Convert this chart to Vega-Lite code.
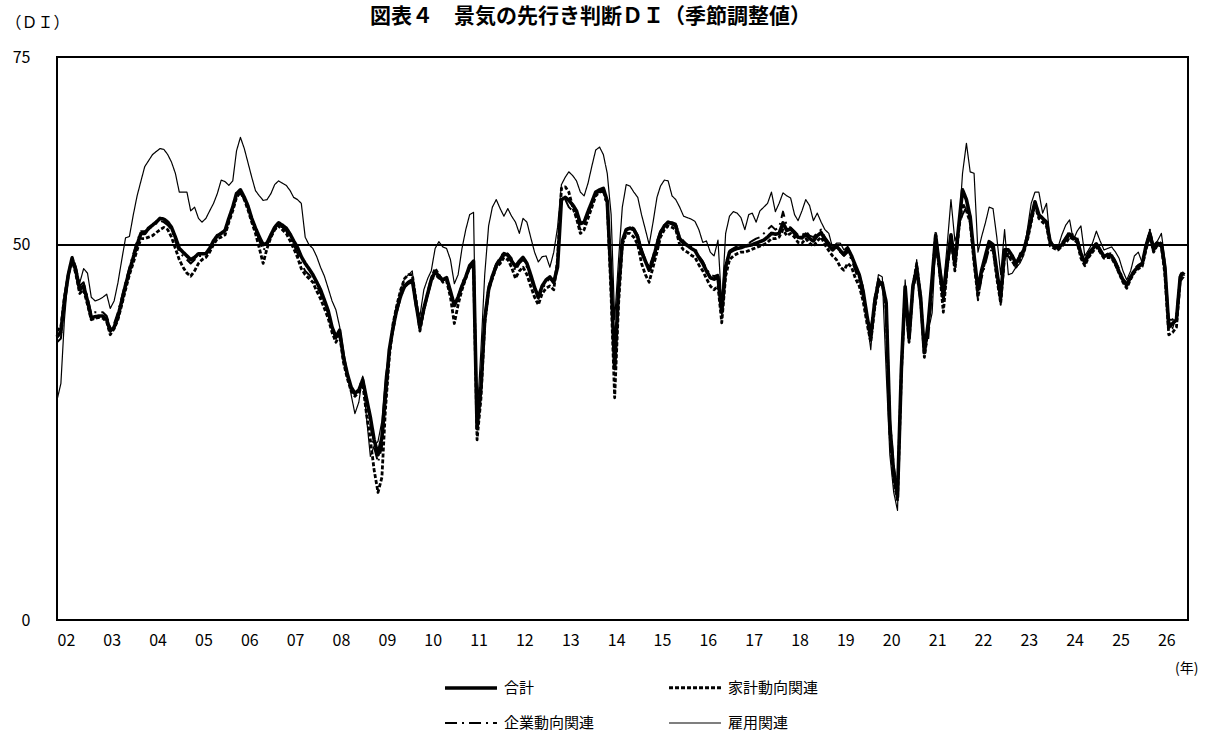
{
  "$schema": "https://vega.github.io/schema/vega-lite/v6.json",
  "description": "景気の先行き判断DI（季節調整値）, 2002-2026",
  "autosize": "none",
  "width": 1131,
  "height": 563,
  "padding": {"left": 57, "top": 57, "right": 26, "bottom": 116},
  "background": "white",
  "title": {
    "text": "図表４　景気の先行き判断ＤＩ（季節調整値）",
    "font": "Noto Sans CJK JP",
    "fontSize": 21,
    "fontWeight": "bold",
    "color": "black",
    "anchor": "middle",
    "dx": -32,
    "offset": -13
  },
  "config": {
    "view": {"stroke": "black", "strokeWidth": 2},
    "font": "Noto Sans CJK JP"
  },
  "data": {"values": [
    {"m":"2002-01","a":37.7,"h":38.5,"c":37.0,"e":29.3},
    {"m":"2002-02","a":38.4,"h":39.0,"c":37.5,"e":31.5},
    {"m":"2002-03","a":42.5,"h":43.0,"c":42.0,"e":40.0},
    {"m":"2002-04","a":46.0,"h":46.0,"c":45.5,"e":46.0},
    {"m":"2002-05","a":48.2,"h":48.0,"c":48.5,"e":48.4},
    {"m":"2002-06","a":46.5,"h":46.0,"c":47.0,"e":46.5},
    {"m":"2002-07","a":44.0,"h":43.5,"c":44.5,"e":44.9},
    {"m":"2002-08","a":44.5,"h":44.0,"c":45.0,"e":46.8},
    {"m":"2002-09","a":42.5,"h":42.0,"c":43.0,"e":46.2},
    {"m":"2002-10","a":40.3,"h":40.0,"c":40.8,"e":43.0},
    {"m":"2002-11","a":40.4,"h":40.2,"c":41.0,"e":42.5},
    {"m":"2002-12","a":40.5,"h":40.3,"c":41.0,"e":42.7},
    {"m":"2003-01","a":40.5,"h":40.2,"c":41.0,"e":43.0},
    {"m":"2003-02","a":40.0,"h":39.7,"c":40.5,"e":43.4},
    {"m":"2003-03","a":38.5,"h":38.0,"c":39.0,"e":41.5},
    {"m":"2003-04","a":39.0,"h":38.8,"c":39.5,"e":42.5},
    {"m":"2003-05","a":40.4,"h":40.0,"c":41.0,"e":44.9},
    {"m":"2003-06","a":42.5,"h":42.0,"c":43.0,"e":48.0},
    {"m":"2003-07","a":44.6,"h":44.0,"c":45.0,"e":50.9},
    {"m":"2003-08","a":46.5,"h":46.0,"c":47.0,"e":51.1},
    {"m":"2003-09","a":48.3,"h":47.6,"c":48.8,"e":54.0},
    {"m":"2003-10","a":50.0,"h":49.3,"c":50.5,"e":56.5},
    {"m":"2003-11","a":51.5,"h":50.8,"c":51.8,"e":58.5},
    {"m":"2003-12","a":51.5,"h":50.8,"c":51.8,"e":60.4},
    {"m":"2004-01","a":52.2,"h":51.0,"c":52.0,"e":61.2},
    {"m":"2004-02","a":52.6,"h":51.2,"c":52.5,"e":62.0},
    {"m":"2004-03","a":53.0,"h":51.6,"c":52.8,"e":62.4},
    {"m":"2004-04","a":53.5,"h":52.0,"c":53.2,"e":62.8},
    {"m":"2004-05","a":53.4,"h":52.3,"c":53.0,"e":62.7},
    {"m":"2004-06","a":53.0,"h":52.0,"c":52.6,"e":62.0},
    {"m":"2004-07","a":52.3,"h":51.0,"c":52.0,"e":61.0},
    {"m":"2004-08","a":51.0,"h":49.5,"c":50.5,"e":59.5},
    {"m":"2004-09","a":49.5,"h":48.0,"c":49.0,"e":57.0},
    {"m":"2004-10","a":49.0,"h":47.0,"c":48.5,"e":57.0},
    {"m":"2004-11","a":48.5,"h":46.2,"c":48.0,"e":57.0},
    {"m":"2004-12","a":48.0,"h":45.8,"c":47.5,"e":54.5},
    {"m":"2005-01","a":48.3,"h":46.5,"c":48.0,"e":55.0},
    {"m":"2005-02","a":48.8,"h":47.5,"c":48.5,"e":53.5},
    {"m":"2005-03","a":48.8,"h":48.0,"c":48.5,"e":53.0},
    {"m":"2005-04","a":48.8,"h":48.3,"c":48.6,"e":53.5},
    {"m":"2005-05","a":49.5,"h":49.0,"c":49.3,"e":54.5},
    {"m":"2005-06","a":50.5,"h":50.0,"c":50.3,"e":55.5},
    {"m":"2005-07","a":51.2,"h":50.8,"c":51.0,"e":56.8},
    {"m":"2005-08","a":51.5,"h":51.0,"c":51.5,"e":58.6},
    {"m":"2005-09","a":51.9,"h":51.3,"c":52.0,"e":58.4},
    {"m":"2005-10","a":53.5,"h":53.0,"c":53.3,"e":57.9},
    {"m":"2005-11","a":55.0,"h":54.5,"c":55.0,"e":58.5},
    {"m":"2005-12","a":56.8,"h":56.3,"c":56.5,"e":62.5},
    {"m":"2006-01","a":57.3,"h":57.0,"c":57.0,"e":64.3},
    {"m":"2006-02","a":56.3,"h":56.0,"c":56.0,"e":62.8},
    {"m":"2006-03","a":55.2,"h":54.7,"c":55.0,"e":61.0},
    {"m":"2006-04","a":53.5,"h":53.0,"c":53.3,"e":59.0},
    {"m":"2006-05","a":52.2,"h":51.5,"c":52.0,"e":57.2},
    {"m":"2006-06","a":51.0,"h":49.5,"c":50.5,"e":56.5},
    {"m":"2006-07","a":50.0,"h":47.5,"c":49.2,"e":55.9},
    {"m":"2006-08","a":50.2,"h":49.5,"c":50.0,"e":56.0},
    {"m":"2006-09","a":51.3,"h":51.0,"c":51.0,"e":56.8},
    {"m":"2006-10","a":52.3,"h":52.0,"c":52.0,"e":58.0},
    {"m":"2006-11","a":52.9,"h":52.5,"c":52.5,"e":58.5},
    {"m":"2006-12","a":52.6,"h":52.0,"c":52.3,"e":58.2},
    {"m":"2007-01","a":52.2,"h":51.5,"c":51.8,"e":57.9},
    {"m":"2007-02","a":51.4,"h":50.5,"c":51.0,"e":57.2},
    {"m":"2007-03","a":50.5,"h":49.5,"c":50.0,"e":56.3},
    {"m":"2007-04","a":49.6,"h":48.3,"c":48.8,"e":56.0},
    {"m":"2007-05","a":48.4,"h":46.8,"c":47.5,"e":55.5},
    {"m":"2007-06","a":47.5,"h":46.0,"c":46.5,"e":51.0},
    {"m":"2007-07","a":46.8,"h":45.5,"c":46.0,"e":50.0},
    {"m":"2007-08","a":46.0,"h":45.0,"c":45.3,"e":49.5},
    {"m":"2007-09","a":45.0,"h":43.8,"c":44.5,"e":48.4},
    {"m":"2007-10","a":44.0,"h":42.8,"c":43.5,"e":47.0},
    {"m":"2007-11","a":42.6,"h":41.5,"c":42.2,"e":45.8},
    {"m":"2007-12","a":41.2,"h":40.2,"c":40.8,"e":44.2},
    {"m":"2008-01","a":39.0,"h":38.3,"c":38.7,"e":42.5},
    {"m":"2008-02","a":37.7,"h":37.0,"c":37.5,"e":41.3},
    {"m":"2008-03","a":38.6,"h":38.0,"c":38.3,"e":39.1},
    {"m":"2008-04","a":35.0,"h":34.3,"c":34.8,"e":36.0},
    {"m":"2008-05","a":32.8,"h":32.2,"c":32.5,"e":33.0},
    {"m":"2008-06","a":31.0,"h":30.5,"c":31.0,"e":30.0},
    {"m":"2008-07","a":30.2,"h":29.8,"c":30.0,"e":27.5},
    {"m":"2008-08","a":30.6,"h":30.3,"c":30.8,"e":29.0},
    {"m":"2008-09","a":32.0,"h":31.5,"c":32.3,"e":32.5},
    {"m":"2008-10","a":29.5,"h":27.5,"c":29.5,"e":27.0},
    {"m":"2008-11","a":27.0,"h":24.0,"c":26.0,"e":21.8},
    {"m":"2008-12","a":24.0,"h":20.0,"c":23.0,"e":23.2},
    {"m":"2009-01","a":22.0,"h":17.0,"c":21.0,"e":23.8},
    {"m":"2009-02","a":24.3,"h":19.0,"c":23.0,"e":26.5},
    {"m":"2009-03","a":30.0,"h":28.0,"c":29.5,"e":32.5},
    {"m":"2009-04","a":36.0,"h":35.0,"c":35.5,"e":36.0},
    {"m":"2009-05","a":39.0,"h":39.5,"c":38.5,"e":39.0},
    {"m":"2009-06","a":41.5,"h":42.0,"c":41.0,"e":41.7},
    {"m":"2009-07","a":43.2,"h":44.0,"c":43.0,"e":44.0},
    {"m":"2009-08","a":44.5,"h":45.5,"c":44.3,"e":45.5},
    {"m":"2009-09","a":45.0,"h":46.0,"c":44.8,"e":46.0},
    {"m":"2009-10","a":45.3,"h":46.0,"c":45.0,"e":46.5},
    {"m":"2009-11","a":42.0,"h":42.5,"c":41.5,"e":42.0},
    {"m":"2009-12","a":39.0,"h":38.5,"c":38.5,"e":40.5},
    {"m":"2010-01","a":41.5,"h":41.3,"c":41.5,"e":44.0},
    {"m":"2010-02","a":43.5,"h":43.5,"c":43.3,"e":45.5},
    {"m":"2010-03","a":45.3,"h":45.5,"c":45.0,"e":46.5},
    {"m":"2010-04","a":46.4,"h":46.8,"c":46.0,"e":49.5},
    {"m":"2010-05","a":45.8,"h":46.0,"c":45.5,"e":50.4},
    {"m":"2010-06","a":45.3,"h":45.0,"c":45.2,"e":49.7},
    {"m":"2010-07","a":45.6,"h":45.2,"c":45.5,"e":49.5},
    {"m":"2010-08","a":43.8,"h":43.0,"c":43.5,"e":48.0},
    {"m":"2010-09","a":41.9,"h":39.5,"c":42.0,"e":44.8},
    {"m":"2010-10","a":43.0,"h":42.0,"c":43.0,"e":46.0},
    {"m":"2010-11","a":44.5,"h":44.0,"c":44.8,"e":49.5},
    {"m":"2010-12","a":45.7,"h":45.5,"c":46.0,"e":52.0},
    {"m":"2011-01","a":47.2,"h":47.0,"c":46.8,"e":54.0},
    {"m":"2011-02","a":47.8,"h":47.5,"c":47.3,"e":54.3},
    {"m":"2011-03","a":25.5,"h":24.0,"c":25.5,"e":27.0},
    {"m":"2011-04","a":31.0,"h":29.5,"c":31.0,"e":36.0},
    {"m":"2011-05","a":40.0,"h":39.5,"c":40.5,"e":46.0},
    {"m":"2011-06","a":44.0,"h":44.0,"c":44.5,"e":52.5},
    {"m":"2011-07","a":45.8,"h":45.5,"c":46.0,"e":55.0},
    {"m":"2011-08","a":47.2,"h":47.0,"c":47.5,"e":56.0},
    {"m":"2011-09","a":48.0,"h":47.5,"c":48.3,"e":54.8},
    {"m":"2011-10","a":48.8,"h":48.3,"c":49.0,"e":53.8},
    {"m":"2011-11","a":48.6,"h":48.0,"c":48.8,"e":54.8},
    {"m":"2011-12","a":47.8,"h":47.0,"c":48.2,"e":53.8},
    {"m":"2012-01","a":47.1,"h":45.5,"c":46.5,"e":53.0},
    {"m":"2012-02","a":47.8,"h":46.5,"c":47.5,"e":51.5},
    {"m":"2012-03","a":48.3,"h":47.0,"c":48.0,"e":53.5},
    {"m":"2012-04","a":47.5,"h":46.0,"c":47.0,"e":53.0},
    {"m":"2012-05","a":46.0,"h":44.5,"c":45.5,"e":51.0},
    {"m":"2012-06","a":44.3,"h":43.0,"c":44.0,"e":49.0},
    {"m":"2012-07","a":43.0,"h":42.0,"c":42.8,"e":47.7},
    {"m":"2012-08","a":44.5,"h":43.5,"c":44.0,"e":48.4},
    {"m":"2012-09","a":45.3,"h":44.2,"c":45.0,"e":48.5},
    {"m":"2012-10","a":45.7,"h":44.5,"c":45.5,"e":47.0},
    {"m":"2012-11","a":45.0,"h":44.0,"c":44.8,"e":49.0},
    {"m":"2012-12","a":47.0,"h":48.0,"c":47.5,"e":52.3},
    {"m":"2013-01","a":56.0,"h":57.5,"c":55.5,"e":58.0},
    {"m":"2013-02","a":56.3,"h":57.7,"c":56.0,"e":59.0},
    {"m":"2013-03","a":55.9,"h":57.0,"c":55.0,"e":59.7},
    {"m":"2013-04","a":55.3,"h":55.0,"c":54.5,"e":59.2},
    {"m":"2013-05","a":54.5,"h":53.5,"c":53.8,"e":58.5},
    {"m":"2013-06","a":52.8,"h":51.5,"c":52.0,"e":57.0},
    {"m":"2013-07","a":53.0,"h":52.0,"c":52.5,"e":56.5},
    {"m":"2013-08","a":54.4,"h":53.5,"c":54.0,"e":58.2},
    {"m":"2013-09","a":55.7,"h":55.0,"c":55.5,"e":60.5},
    {"m":"2013-10","a":57.0,"h":56.5,"c":56.8,"e":62.6},
    {"m":"2013-11","a":57.3,"h":57.0,"c":57.0,"e":63.0},
    {"m":"2013-12","a":57.5,"h":57.2,"c":57.0,"e":62.0},
    {"m":"2014-01","a":55.8,"h":55.5,"c":55.0,"e":59.5},
    {"m":"2014-02","a":45.5,"h":43.0,"c":46.0,"e":54.0},
    {"m":"2014-03","a":33.5,"h":29.6,"c":35.0,"e":40.0},
    {"m":"2014-04","a":44.0,"h":42.0,"c":45.0,"e":48.0},
    {"m":"2014-05","a":50.5,"h":50.0,"c":50.5,"e":55.0},
    {"m":"2014-06","a":52.0,"h":51.5,"c":52.0,"e":58.0},
    {"m":"2014-07","a":52.2,"h":51.5,"c":52.5,"e":57.8},
    {"m":"2014-08","a":52.0,"h":51.0,"c":52.2,"e":57.0},
    {"m":"2014-09","a":51.0,"h":50.0,"c":51.3,"e":56.3},
    {"m":"2014-10","a":49.0,"h":47.5,"c":49.5,"e":54.0},
    {"m":"2014-11","a":47.8,"h":46.0,"c":48.0,"e":52.0},
    {"m":"2014-12","a":46.6,"h":45.0,"c":47.0,"e":50.0},
    {"m":"2015-01","a":48.0,"h":47.0,"c":48.5,"e":53.0},
    {"m":"2015-02","a":50.0,"h":49.0,"c":50.5,"e":56.3},
    {"m":"2015-03","a":51.6,"h":51.0,"c":51.8,"e":57.8},
    {"m":"2015-04","a":52.5,"h":52.0,"c":52.6,"e":58.6},
    {"m":"2015-05","a":53.0,"h":52.5,"c":53.0,"e":58.5},
    {"m":"2015-06","a":52.8,"h":52.3,"c":53.0,"e":56.5},
    {"m":"2015-07","a":52.5,"h":52.0,"c":52.8,"e":56.0},
    {"m":"2015-08","a":50.8,"h":50.0,"c":51.0,"e":55.0},
    {"m":"2015-09","a":50.2,"h":49.3,"c":50.5,"e":53.8},
    {"m":"2015-10","a":49.9,"h":49.0,"c":50.0,"e":53.6},
    {"m":"2015-11","a":49.5,"h":48.6,"c":49.8,"e":53.4},
    {"m":"2015-12","a":49.2,"h":48.3,"c":49.5,"e":53.1},
    {"m":"2016-01","a":48.3,"h":47.3,"c":48.5,"e":52.0},
    {"m":"2016-02","a":47.5,"h":46.5,"c":47.8,"e":50.3},
    {"m":"2016-03","a":46.5,"h":45.5,"c":46.8,"e":50.5},
    {"m":"2016-04","a":45.6,"h":44.5,"c":46.0,"e":49.0},
    {"m":"2016-05","a":45.4,"h":44.0,"c":45.8,"e":48.5},
    {"m":"2016-06","a":45.7,"h":44.5,"c":46.0,"e":50.6},
    {"m":"2016-07","a":41.0,"h":39.6,"c":41.5,"e":42.0},
    {"m":"2016-08","a":47.0,"h":45.8,"c":47.5,"e":51.5},
    {"m":"2016-09","a":49.0,"h":48.0,"c":49.2,"e":53.8},
    {"m":"2016-10","a":49.3,"h":48.5,"c":49.5,"e":54.4},
    {"m":"2016-11","a":49.5,"h":48.8,"c":49.8,"e":54.2},
    {"m":"2016-12","a":49.6,"h":49.0,"c":49.8,"e":53.6},
    {"m":"2017-01","a":49.8,"h":49.0,"c":50.0,"e":52.0},
    {"m":"2017-02","a":49.9,"h":49.2,"c":50.2,"e":54.0},
    {"m":"2017-03","a":50.0,"h":49.4,"c":50.5,"e":54.2},
    {"m":"2017-04","a":50.2,"h":49.6,"c":50.8,"e":53.0},
    {"m":"2017-05","a":50.4,"h":49.8,"c":51.0,"e":54.5},
    {"m":"2017-06","a":50.6,"h":50.0,"c":51.5,"e":55.0},
    {"m":"2017-07","a":51.0,"h":50.3,"c":52.0,"e":55.5},
    {"m":"2017-08","a":51.5,"h":50.8,"c":52.5,"e":57.0},
    {"m":"2017-09","a":51.4,"h":50.8,"c":52.0,"e":54.4},
    {"m":"2017-10","a":51.5,"h":51.0,"c":52.3,"e":55.5},
    {"m":"2017-11","a":52.9,"h":52.0,"c":54.4,"e":56.9},
    {"m":"2017-12","a":51.9,"h":51.2,"c":52.5,"e":56.5},
    {"m":"2018-01","a":52.1,"h":51.5,"c":52.3,"e":56.2},
    {"m":"2018-02","a":51.5,"h":51.0,"c":51.8,"e":54.0},
    {"m":"2018-03","a":51.0,"h":50.3,"c":51.3,"e":53.2},
    {"m":"2018-04","a":50.9,"h":50.2,"c":51.2,"e":54.5},
    {"m":"2018-05","a":51.4,"h":50.8,"c":51.8,"e":56.0},
    {"m":"2018-06","a":50.8,"h":50.2,"c":51.2,"e":55.2},
    {"m":"2018-07","a":50.5,"h":49.8,"c":51.0,"e":53.2},
    {"m":"2018-08","a":51.2,"h":50.5,"c":51.6,"e":54.2},
    {"m":"2018-09","a":51.6,"h":51.0,"c":52.0,"e":53.0},
    {"m":"2018-10","a":50.7,"h":50.0,"c":51.0,"e":52.0},
    {"m":"2018-11","a":49.9,"h":49.2,"c":50.3,"e":51.5},
    {"m":"2018-12","a":49.3,"h":48.5,"c":49.7,"e":49.6},
    {"m":"2019-01","a":49.8,"h":48.0,"c":49.5,"e":50.2},
    {"m":"2019-02","a":49.2,"h":47.0,"c":49.0,"e":50.2},
    {"m":"2019-03","a":48.7,"h":46.6,"c":48.5,"e":49.3},
    {"m":"2019-04","a":49.5,"h":47.5,"c":49.0,"e":49.8},
    {"m":"2019-05","a":48.5,"h":47.0,"c":48.0,"e":48.5},
    {"m":"2019-06","a":47.2,"h":45.5,"c":46.5,"e":47.0},
    {"m":"2019-07","a":46.0,"h":44.5,"c":45.0,"e":46.2},
    {"m":"2019-08","a":43.8,"h":42.5,"c":43.0,"e":44.5},
    {"m":"2019-09","a":40.5,"h":39.5,"c":40.0,"e":40.0},
    {"m":"2019-10","a":37.7,"h":37.0,"c":38.5,"e":36.0},
    {"m":"2019-11","a":42.3,"h":41.5,"c":43.0,"e":42.5},
    {"m":"2019-12","a":45.0,"h":44.5,"c":45.5,"e":46.0},
    {"m":"2020-01","a":44.8,"h":45.0,"c":44.5,"e":45.7},
    {"m":"2020-02","a":42.2,"h":41.5,"c":42.8,"e":33.0},
    {"m":"2020-03","a":26.0,"h":25.0,"c":27.0,"e":22.0},
    {"m":"2020-04","a":19.5,"h":18.5,"c":20.5,"e":17.0},
    {"m":"2020-05","a":16.4,"h":16.0,"c":17.5,"e":14.6},
    {"m":"2020-06","a":33.5,"h":33.0,"c":33.0,"e":31.5},
    {"m":"2020-07","a":44.4,"h":44.0,"c":44.0,"e":45.3},
    {"m":"2020-08","a":37.5,"h":37.0,"c":38.5,"e":37.0},
    {"m":"2020-09","a":44.5,"h":44.5,"c":44.0,"e":43.5},
    {"m":"2020-10","a":46.8,"h":47.5,"c":46.0,"e":48.0},
    {"m":"2020-11","a":43.0,"h":43.0,"c":42.0,"e":43.0},
    {"m":"2020-12","a":35.6,"h":35.0,"c":36.0,"e":36.4},
    {"m":"2021-01","a":39.6,"h":39.0,"c":37.5,"e":38.5},
    {"m":"2021-02","a":45.5,"h":45.0,"c":44.0,"e":40.9},
    {"m":"2021-03","a":51.2,"h":51.5,"c":50.0,"e":50.0},
    {"m":"2021-04","a":47.0,"h":46.5,"c":46.0,"e":47.5},
    {"m":"2021-05","a":43.0,"h":41.0,"c":42.5,"e":44.4},
    {"m":"2021-06","a":47.5,"h":47.0,"c":46.5,"e":50.0},
    {"m":"2021-07","a":51.3,"h":51.0,"c":50.5,"e":56.0},
    {"m":"2021-08","a":47.5,"h":46.5,"c":47.0,"e":50.5},
    {"m":"2021-09","a":52.5,"h":52.0,"c":52.5,"e":52.0},
    {"m":"2021-10","a":57.3,"h":55.5,"c":54.0,"e":59.5},
    {"m":"2021-11","a":56.0,"h":54.5,"c":55.0,"e":63.5},
    {"m":"2021-12","a":53.7,"h":53.0,"c":53.0,"e":59.7},
    {"m":"2022-01","a":48.5,"h":47.5,"c":48.0,"e":59.5},
    {"m":"2022-02","a":44.0,"h":43.0,"c":42.6,"e":49.0},
    {"m":"2022-03","a":46.5,"h":46.0,"c":45.5,"e":51.0},
    {"m":"2022-04","a":48.5,"h":48.0,"c":47.5,"e":52.9},
    {"m":"2022-05","a":50.4,"h":50.0,"c":49.5,"e":55.0},
    {"m":"2022-06","a":50.0,"h":49.5,"c":49.0,"e":54.8},
    {"m":"2022-07","a":46.5,"h":45.5,"c":46.0,"e":51.0},
    {"m":"2022-08","a":43.0,"h":42.2,"c":42.0,"e":46.0},
    {"m":"2022-09","a":49.3,"h":48.5,"c":48.5,"e":52.0},
    {"m":"2022-10","a":49.3,"h":48.8,"c":48.5,"e":46.0},
    {"m":"2022-11","a":48.5,"h":47.8,"c":47.5,"e":46.2},
    {"m":"2022-12","a":47.5,"h":47.0,"c":47.0,"e":47.0},
    {"m":"2023-01","a":48.4,"h":48.0,"c":48.8,"e":47.5},
    {"m":"2023-02","a":49.3,"h":49.0,"c":49.5,"e":48.6},
    {"m":"2023-03","a":51.0,"h":50.5,"c":51.5,"e":52.0},
    {"m":"2023-04","a":53.5,"h":53.0,"c":54.0,"e":55.5},
    {"m":"2023-05","a":55.7,"h":55.3,"c":55.5,"e":57.0},
    {"m":"2023-06","a":54.0,"h":53.5,"c":54.0,"e":57.0},
    {"m":"2023-07","a":53.5,"h":53.0,"c":53.5,"e":54.2},
    {"m":"2023-08","a":53.0,"h":52.5,"c":53.0,"e":55.5},
    {"m":"2023-09","a":50.2,"h":49.8,"c":50.5,"e":50.2},
    {"m":"2023-10","a":49.8,"h":49.5,"c":50.0,"e":49.9},
    {"m":"2023-11","a":49.5,"h":49.3,"c":49.8,"e":49.7},
    {"m":"2023-12","a":50.0,"h":49.8,"c":50.2,"e":51.3},
    {"m":"2024-01","a":50.7,"h":50.2,"c":51.0,"e":52.6},
    {"m":"2024-02","a":51.4,"h":51.0,"c":51.8,"e":53.3},
    {"m":"2024-03","a":51.0,"h":50.7,"c":51.3,"e":50.6},
    {"m":"2024-04","a":50.6,"h":50.3,"c":51.0,"e":51.8},
    {"m":"2024-05","a":48.8,"h":48.2,"c":49.0,"e":52.5},
    {"m":"2024-06","a":47.6,"h":47.2,"c":48.0,"e":48.5},
    {"m":"2024-07","a":48.6,"h":48.3,"c":49.0,"e":49.3},
    {"m":"2024-08","a":49.4,"h":49.0,"c":49.6,"e":50.2},
    {"m":"2024-09","a":50.1,"h":49.7,"c":50.3,"e":51.8},
    {"m":"2024-10","a":49.2,"h":49.0,"c":49.5,"e":50.5},
    {"m":"2024-11","a":48.4,"h":48.2,"c":48.6,"e":49.3},
    {"m":"2024-12","a":48.7,"h":48.3,"c":48.9,"e":49.5},
    {"m":"2025-01","a":48.5,"h":48.2,"c":48.8,"e":49.7},
    {"m":"2025-02","a":47.5,"h":47.3,"c":47.8,"e":49.0},
    {"m":"2025-03","a":46.4,"h":46.2,"c":46.8,"e":48.2},
    {"m":"2025-04","a":45.3,"h":45.0,"c":45.5,"e":46.5},
    {"m":"2025-05","a":44.6,"h":44.2,"c":44.8,"e":45.3},
    {"m":"2025-06","a":45.7,"h":45.4,"c":45.8,"e":46.5},
    {"m":"2025-07","a":46.5,"h":46.3,"c":46.8,"e":48.5},
    {"m":"2025-08","a":47.1,"h":46.8,"c":47.3,"e":49.0},
    {"m":"2025-09","a":47.4,"h":47.1,"c":47.6,"e":47.6},
    {"m":"2025-10","a":49.8,"h":49.3,"c":49.8,"e":50.0},
    {"m":"2025-11","a":51.5,"h":51.3,"c":52.0,"e":52.0},
    {"m":"2025-12","a":49.3,"h":49.0,"c":49.5,"e":50.0},
    {"m":"2026-01","a":50.2,"h":50.0,"c":50.5,"e":50.5},
    {"m":"2026-02","a":50.0,"h":49.8,"c":50.2,"e":51.5},
    {"m":"2026-03","a":47.0,"h":46.0,"c":47.5,"e":48.0},
    {"m":"2026-04","a":39.0,"h":38.0,"c":40.0,"e":40.0},
    {"m":"2026-05","a":39.5,"h":38.3,"c":40.0,"e":38.8},
    {"m":"2026-06","a":40.0,"h":39.0,"c":40.8,"e":40.5},
    {"m":"2026-07","a":45.7,"h":45.3,"c":46.0,"e":45.0},
    {"m":"2026-08","a":46.3,"h":46.0,"c":46.8,"e":45.7}
  ]},
  "layer": [
    {
      "transform": [{"fold": ["e", "c", "h", "a"], "as": ["s", "v"]}],
      "mark": {"type": "line", "color": "black", "strokeJoin": "round"},
      "encoding": {
        "x": {
          "field": "m",
          "type": "temporal",
          "scale": {
            "type": "utc",
            "domain": [
              {"year": 2002, "month": 1, "date": 1, "utc": true},
              {"year": 2026, "month": 9, "date": 1, "utc": true}
            ]
          },
          "axis": {
            "title": "(年)",
            "titleFont": "Noto Sans CJK JP",
            "titleFontSize": 14,
            "titleFontWeight": "normal",
            "titleColor": "black",
            "titleAnchor": "end",
            "titleAlign": "right",
            "titleX": 1141,
            "titleY": 48,
            "titleBaseline": "middle",
            "labelExpr": "utcFormat(datum.value, '%y')",
            "tickCount": {"interval": "year", "step": 1},
            "ticks": false,
            "domain": false,
            "grid": false,
            "labelAlign": "left",
            "labelBaseline": "middle",
            "labelPadding": 20,
            "labelFontSize": 16,
            "labelColor": "black",
            "labelFlush": false,
            "labelOverlap": false
          }
        },
        "y": {
          "field": "v",
          "type": "quantitative",
          "scale": {"domain": [0, 75], "nice": false, "zero": true},
          "axis": {
            "title": "（ＤＩ）",
            "titleAngle": 0,
            "titleAlign": "left",
            "titleBaseline": "middle",
            "titleX": -52,
            "titleY": -35,
            "titleFontSize": 16,
            "titleFontWeight": "normal",
            "titleColor": "black",
            "values": [0, 50, 75],
            "ticks": false,
            "domain": false,
            "grid": false,
            "labelPadding": 27,
            "labelFontSize": 16,
            "labelColor": "black"
          }
        },
        "strokeDash": {
          "field": "s",
          "type": "nominal",
          "scale": {
            "domain": ["a", "h", "c", "e"],
            "range": [[1, 0], [4, 2], [12, 5, 2, 5], [1, 0]]
          },
          "legend": {
            "title": null,
            "orient": "none",
            "direction": "horizontal",
            "legendX": 386,
            "legendY": 603,
            "columns": 2,
            "gridAlign": "all",
            "columnPadding": 68,
            "rowPadding": -22,
            "symbolType": "stroke",
            "symbolSize": 2700,
            "symbolStrokeColor": "black",
            "labelFontSize": 15,
            "labelColor": "black",
            "labelOffset": 5,
            "labelExpr": "{'a': '合計', 'h': '家計動向関連', 'c': '企業動向関連', 'e': '雇用関連'}[datum.label]"
          }
        },
        "strokeWidth": {
          "field": "s",
          "type": "nominal",
          "scale": {
            "domain": ["a", "h", "c", "e"],
            "range": [3.6, 1.2, 1.3, 1.3]
          },
          "legend": {
            "title": null,
            "orient": "none",
            "direction": "horizontal",
            "legendX": 386,
            "legendY": 603,
            "columns": 2,
            "gridAlign": "all",
            "columnPadding": 68,
            "rowPadding": -22,
            "symbolType": "stroke",
            "symbolSize": 2700,
            "symbolStrokeColor": "black",
            "labelFontSize": 15,
            "labelColor": "black",
            "labelOffset": 5,
            "labelExpr": "{'a': '合計', 'h': '家計動向関連', 'c': '企業動向関連', 'e': '雇用関連'}[datum.label]"
          }
        },
        "order": {"field": "s", "type": "nominal"}
      }
    },
    {
      "mark": {"type": "rule", "color": "black", "strokeWidth": 1.5},
      "encoding": {"y": {"datum": 50, "type": "quantitative"}}
    }
  ]
}
